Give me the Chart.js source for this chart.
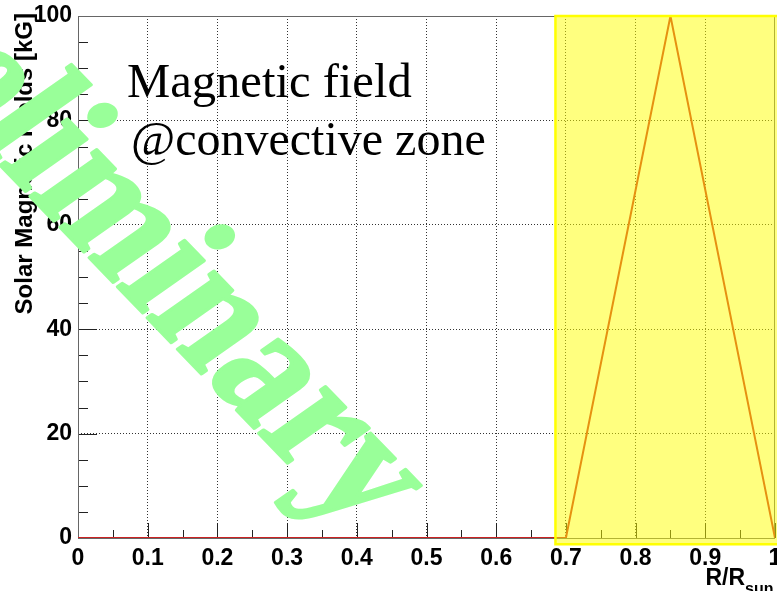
<!DOCTYPE html>
<html>
<head>
<meta charset="utf-8">
<script src="https://cdn.jsdelivr.net/npm/chart.js@4.4.0/dist/chart.umd.min.js"></script>
<style>
  body { margin: 0; background: #fff; }
  #wrap { width: 777px; height: 591px; }
</style>
</head>
<body>
<div id="wrap"><canvas id="fieldChart" width="777" height="591"></canvas></div>
<script>
// field profile along the solar radius, peak in the middle of the convective zone
const radius = [0, 0.7, 0.85, 1.0];
const field = [0, 0, 100, 0];

const xTickLabels = ["0", "0.1", "0.2", "0.3", "0.4", "0.5", "0.6", "0.7", "0.8", "0.9", "1"];
const yTickLabels = ["0", "20", "40", "60", "80", "100"];

// shaded convective zone (data coords)
const zoneX = [0.685, 1.01];
const zoneY = [-1.2, 100];

const sansBold = { family: '"Liberation Sans", Arial, sans-serif', size: 23, weight: 'bold', lineHeight: 1 };

const frame = {
  id: 'frame',
  beforeDatasetsDraw(chart) {
    const { ctx, chartArea: a, scales: { x, y } } = chart;
    ctx.save();
    ctx.lineWidth = 1;
    ctx.strokeStyle = '#222';
    // ROOT style ticks pointing into the frame
    for (let v = 0; v <= 100; v += 5) {
      const py = Math.round(y.getPixelForValue(v)) + 0.5;
      const len = v % 20 === 0 ? 19 : 10;
      ctx.beginPath(); ctx.moveTo(a.left, py); ctx.lineTo(a.left + len, py); ctx.stroke();
    }
    for (let i = 0; i <= 20; i++) {
      const px = Math.round(x.getPixelForValue(i * 0.05)) + 0.5;
      const len = i % 2 === 0 ? 15 : 8;
      ctx.beginPath(); ctx.moveTo(px, a.bottom); ctx.lineTo(px, a.bottom - len); ctx.stroke();
    }
    ctx.strokeStyle = '#666';
    ctx.strokeRect(a.left + 0.5, a.top + 0.5, a.right - a.left - 1, a.bottom - a.top);
    ctx.restore();
  },
  afterDatasetsDraw(chart) {
    const { ctx, scales: { x, y } } = chart;
    const x0 = x.getPixelForValue(zoneX[0]), x1 = x.getPixelForValue(zoneX[1]);
    const y0 = y.getPixelForValue(zoneY[1]), y1 = y.getPixelForValue(zoneY[0]);
    ctx.save();
    ctx.fillStyle = 'rgba(255, 255, 0, 0.5)';
    ctx.fillRect(x0, y0, x1 - x0, y1 - y0);
    ctx.strokeStyle = '#ffff00';
    ctx.lineWidth = 2.5;
    ctx.strokeRect(x0, y0, x1 - x0, y1 - y0);
    ctx.restore();
  },
  afterDraw(chart) {
    const { ctx } = chart;
    ctx.save();
    ctx.fillStyle = '#000';

    // axis titles
    ctx.font = 'bold 24px "Liberation Sans", Arial, sans-serif';
    ctx.translate(32, 13);
    ctx.rotate(-Math.PI / 2);
    ctx.textAlign = 'right';
    ctx.fillText('Solar Magnetic Fields [kG]', 0, 0);
    ctx.setTransform(1, 0, 0, 1, 0, 0);

    ctx.font = 'bold 23px "Liberation Sans", Arial, sans-serif';
    ctx.textAlign = 'right';
    ctx.fillText('R/R', 745, 585);
    ctx.font = 'bold 16px "Liberation Sans", Arial, sans-serif';
    ctx.textAlign = 'left';
    ctx.fillText('sun', 745, 594);

    // label
    ctx.font = '48.6px "Liberation Serif", "Times New Roman", serif';
    ctx.fillText('Magnetic field', 127, 97);
    ctx.font = '48px "Liberation Serif", "Times New Roman", serif';
    ctx.fillText('@convective zone', 131, 155);

    // watermark: bold serif, slanted by hand, along the diagonal
    ctx.fillStyle = '#99ff99';
    ctx.strokeStyle = '#99ff99';
    ctx.lineWidth = 3;
    ctx.lineJoin = 'round';
    ctx.font = 'bold 152px "Liberation Serif", "Times New Roman", serif';
    ctx.textAlign = 'center';
    ctx.translate(84, 252);
    ctx.rotate(46 * Math.PI / 180);
    ctx.scale(1, 1.15);
    ctx.transform(1, 0, -0.18, 1, 0, 0);
    ctx.fillText('Preliminary', 0, 0);
    ctx.strokeText('Preliminary', 0, 0);
    ctx.restore();
  }
};

new Chart(document.getElementById('fieldChart'), {
  type: 'line',
  data: {
    datasets: [{
      data: radius.map((r, i) => ({ x: r, y: field[i] })),
      borderColor: '#cc2222',
      borderWidth: 2,
      pointRadius: 0,
      fill: false,
      tension: 0
    }]
  },
  options: {
    responsive: false,
    animation: false,
    layout: { padding: { top: 16, right: 2, left: 0, bottom: 0 } },
    plugins: { legend: { display: false }, tooltip: { enabled: false } },
    scales: {
      x: {
        type: 'linear',
        min: 0,
        max: 1,
        ticks: {
          stepSize: 0.1,
          padding: 9,
          autoSkip: false,
          maxRotation: 0,
          color: '#000',
          font: sansBold,
          callback: (v, i) => xTickLabels[i]
        },
        grid: {
          drawTicks: false,
          color: c => (c.tick && c.tick.value > 0 && c.tick.value < 1) ? '#333' : 'rgba(0,0,0,0)'
        },
        border: { display: false, dash: [1, 2] },
        afterFit: s => { s.height = 53; s.paddingLeft = 0; s.paddingRight = 0; }
      },
      y: {
        min: 0,
        max: 100,
        ticks: {
          stepSize: 20,
          padding: 6,
          color: '#000',
          font: sansBold,
          callback: (v, i) => yTickLabels[i]
        },
        grid: {
          drawTicks: false,
          color: c => (c.tick && c.tick.value > 0 && c.tick.value < 100) ? '#333' : 'rgba(0,0,0,0)'
        },
        border: { display: false, dash: [1, 2] },
        afterFit: s => { s.width = 78; s.paddingTop = 0; s.paddingBottom = 0; }
      }
    }
  },
  plugins: [frame]
});
</script>
</body>
</html>
